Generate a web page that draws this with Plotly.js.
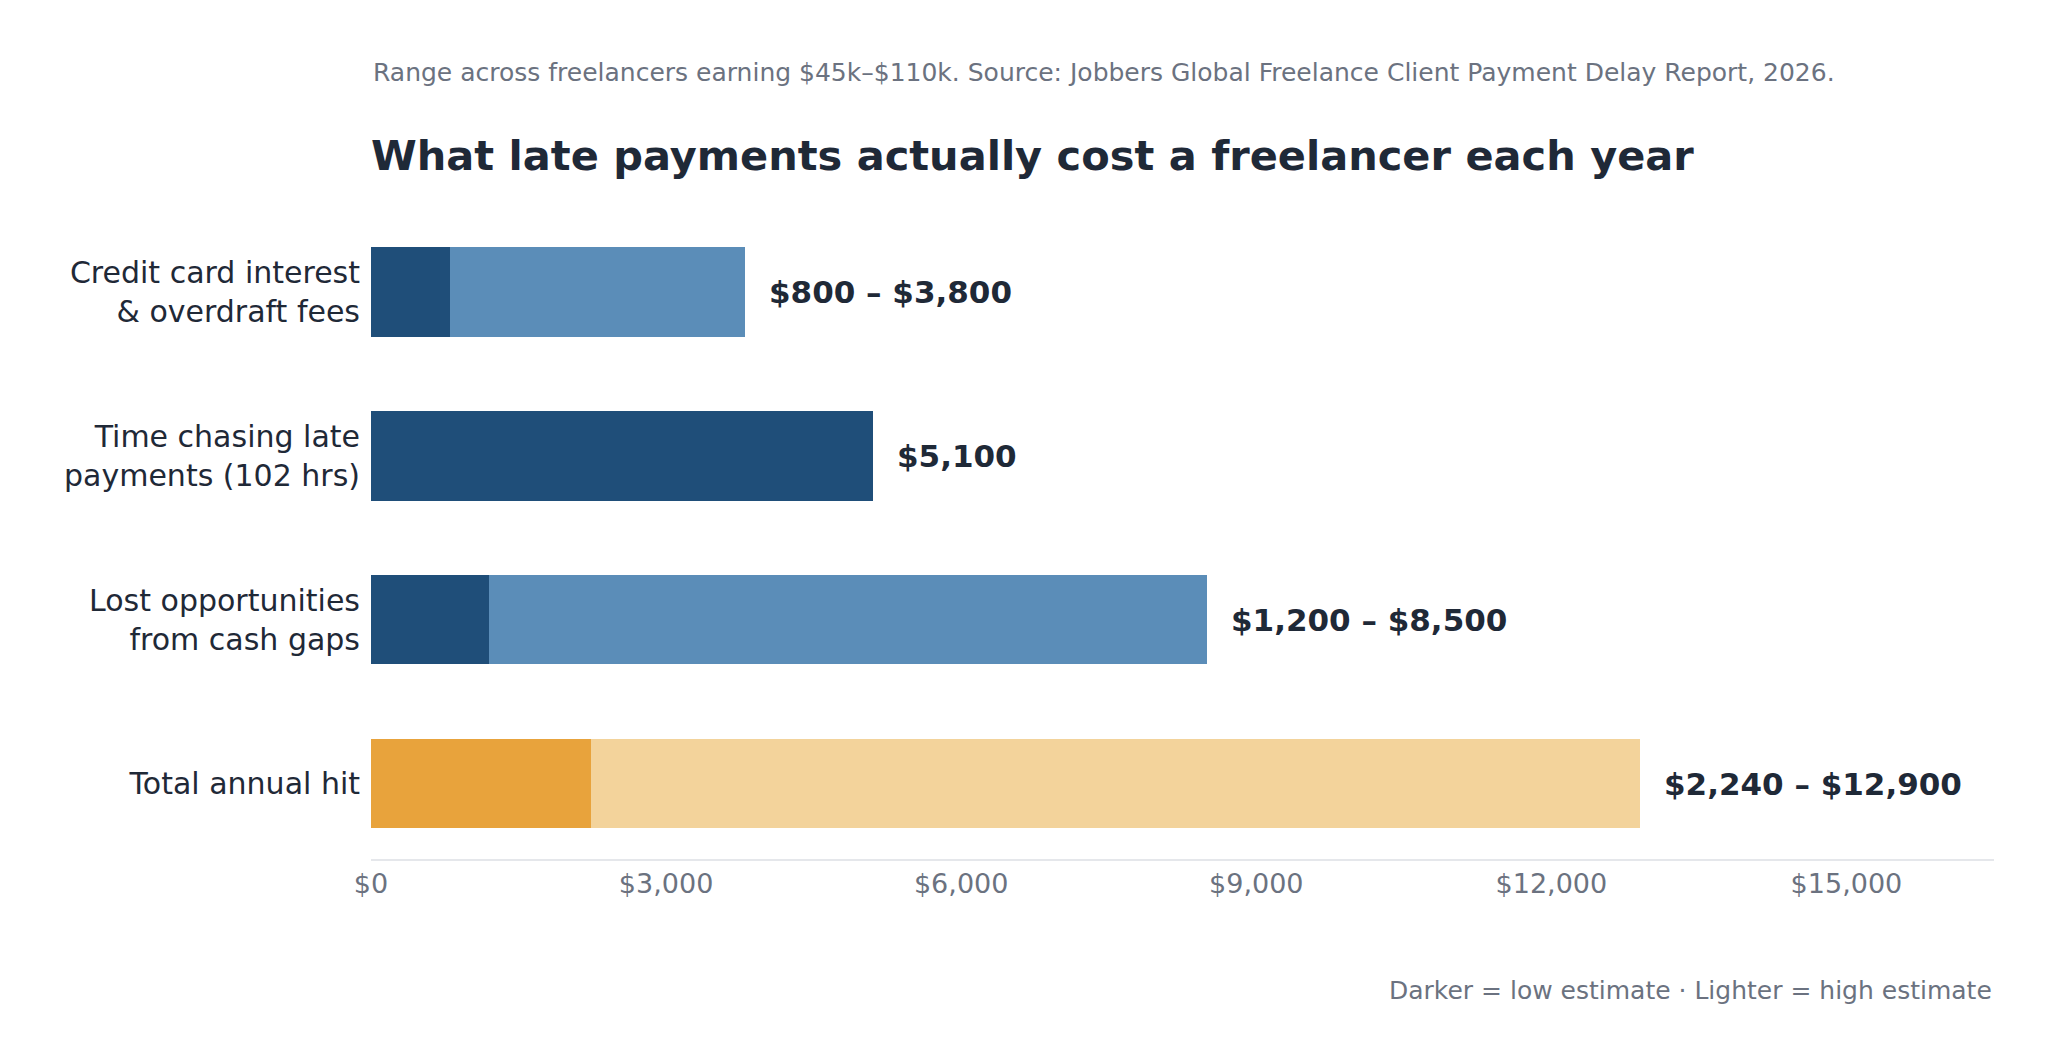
<!DOCTYPE html>
<html>
<head>
<meta charset="utf-8">
<script src="https://cdn.plot.ly/plotly-3.0.1.min.js"></script>
<style>
  html, body { margin: 0; padding: 0; background: #ffffff; }
  #chart { width: 2054px; height: 1062px; }
</style>
</head>
<body>
<div id="chart"></div>
<script>
// categories, top to bottom
let categories = [
    "Credit card interest<br>& overdraft fees",
    "Time chasing late<br>payments (102 hrs)",
    "Lost opportunities<br>from cash gaps",
    "Total annual hit"
];
let low_values = [800, 5100, 1200, 2240];
let high_values = [3800, 5100, 8500, 12900];
let value_labels = ["$800 – $3,800", "$5,100", "$1,200 – $8,500", "$2,240 – $12,900"];
let tick_values = [0, 3000, 6000, 9000, 12000, 15000];
let tick_labels = ["$0", "$3,000", "$6,000", "$9,000", "$12,000", "$15,000"];

let dark_colors = ["#1f4e79", "#1f4e79", "#1f4e79", "#e8a33c"];
let light_colors = ["#5b8db8", "#5b8db8", "#5b8db8", "#f3d39b"];

let font_family = "DejaVu Sans, Verdana, sans-serif";

let extra_values = [];
for (let i = 0; i < low_values.length; i++) {
    extra_values.push(high_values[i] - low_values[i]);
}

let trace_low = {
    type: "bar",
    orientation: "h",
    y: categories,
    x: low_values,
    marker: { color: dark_colors, line: { width: 0 } },
    hoverinfo: "skip",
    showlegend: false
};

let trace_high = {
    type: "bar",
    orientation: "h",
    y: categories,
    x: extra_values,
    marker: { color: light_colors, line: { width: 0 } },
    hoverinfo: "skip",
    showlegend: false
};

let annotations = [];
for (let i = 0; i < categories.length; i++) {
    annotations.push({
        x: high_values[i],
        y: categories[i],
        xref: "x",
        yref: "y",
        text: "<b>" + value_labels[i] + "</b>",
        showarrow: false,
        xanchor: "left",
        yanchor: "middle",
        xshift: 22,
        font: { family: font_family, size: 31, color: "#1f2937" }
    });
}

let plot_top = 210, plot_bottom = 859;

annotations.push({
    x: 0,
    y: 72,
    xref: "paper",
    yref: "paper",
    text: "Range across freelancers earning $45k–$110k. Source: Jobbers Global Freelance Client Payment Delay Report, 2026.",
    showarrow: false,
    xanchor: "left",
    yanchor: "middle",
    font: { family: font_family, size: 25, color: "#6b7280" }
});

annotations.push({
    x: 1,
    y: 990,
    xref: "paper",
    yref: "paper",
    text: "Darker = low estimate · Lighter = high estimate",
    showarrow: false,
    xanchor: "right",
    yanchor: "middle",
    font: { family: font_family, size: 25, color: "#6b7280" }
});

// convert pixel rows to paper y
for (let i = annotations.length - 2; i < annotations.length; i++) {
    let py = annotations[i].y;
    annotations[i].y = (plot_bottom - py) / (plot_bottom - plot_top);
}

let layout = {
    width: 2054,
    height: 1062,
    barmode: "stack",
    bargap: 0.454,
    paper_bgcolor: "#ffffff",
    plot_bgcolor: "#ffffff",
    margin: { l: 371, r: 60, t: plot_top, b: 1062 - plot_bottom },
    font: { family: font_family, color: "#1f2937" },
    title: {
        text: "<b>What late payments actually cost a freelancer each year</b>",
        x: 371 / 2054,
        xanchor: "left",
        xref: "container",
        y: 1 - 155 / 1062,
        yanchor: "middle",
        yref: "container",
        font: { family: font_family, size: 41.5, color: "#1f2937" }
    },
    xaxis: {
        range: [0, 16500],
        tickvals: tick_values,
        ticktext: tick_labels,
        showgrid: false,
        zeroline: false,
        showline: true,
        linecolor: "#e5e7eb",
        linewidth: 2,
        ticks: "",
        tickfont: { family: font_family, size: 27, color: "#6b7280" },
        fixedrange: true
    },
    yaxis: {
        range: [3.46, -0.5],
        showgrid: false,
        zeroline: false,
        showline: false,
        ticks: "",
        ticklabelstandoff: 10,
        tickfont: { family: font_family, size: 30, color: "#1f2937" },
        fixedrange: true
    },
    annotations: annotations
};

Plotly.newPlot("chart", [trace_low, trace_high], layout, { displayModeBar: false, staticPlot: true });
</script>
</body>
</html>
